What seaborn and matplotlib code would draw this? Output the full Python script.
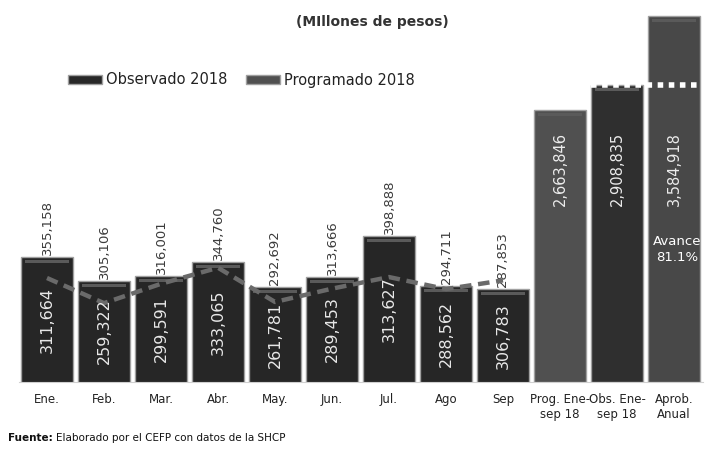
import matplotlib
matplotlib.use("Agg")
import matplotlib.pyplot as plt
import matplotlib.transforms as mtransforms
from matplotlib.patches import Patch, Rectangle
import numpy as np
import pandas as pd
import seaborn as sns

meses = ["Ene.", "Feb.", "Mar.", "Abr.", "May.", "Jun.", "Jul.", "Ago", "Sep"]
observado = [355158, 305106, 316001, 344760, 292692, 313666, 398888, 294711, 287853]
programado = [311664, 259322, 299591, 333065, 261781, 289453, 313627, 288562, 306783]
acumulados = ["Prog. Ene-\nsep 18", "Obs. Ene-\nsep 18", "Aprob.\nAnual"]
acum_valores = [2663846, 2908835, 3584918]
todas = meses + acumulados

sns.set_style("white")
plt.rcParams["font.family"] = ["DejaVu Sans"]

fig = plt.figure(figsize=(7.07, 4.5), dpi=100)
ax = fig.add_axes([18.5 / 707, 68 / 450, 684 / 707, 372 / 450])
ax2 = ax.twinx()

df_mes = pd.DataFrame({"mes": meses, "observado": observado, "programado": programado})
df_acum = pd.DataFrame({"concepto": acumulados, "valor": acum_valores})

# barras mensuales (eje principal)
sns.barplot(data=df_mes, x="mes", y="observado", order=todas, color="#262626",
            saturation=1, width=0.91, edgecolor="#a0a0a0", linewidth=1, ax=ax)
# programado mensual como linea punteada
sns.lineplot(x=np.arange(len(meses)), y=programado, color="#6a6a6a", lw=3.2,
             ax=ax, zorder=5)
ax.lines[-1].set_dashes((2.6, 1.5))

# acumulados (eje secundario)
sns.barplot(data=df_acum, x="concepto", y="valor", order=todas, hue="concepto",
            palette=["#505050", "#2f2f2f", "#484848"], legend=False, saturation=1,
            width=0.91, edgecolor="#a0a0a0", linewidth=1, ax=ax2)

ymin1, ymax1 = 95000, 870000
ax.set_ylim(ymin1, ymax1)
ax2.set_ylim(0, 3643500)
ax.set_xlim(-0.5, len(todas) - 0.5)

# brillo superior de cada barra
for a in (ax, ax2):
    lo, hi = a.get_ylim()
    upp = (hi - lo) / 372
    for p in list(a.patches):
        h = p.get_height()
        if not np.isfinite(h) or h <= 0:
            continue
        x, w = p.get_x(), p.get_width()
        a.add_patch(Rectangle((x + w * 0.08, h - 6 * upp), w * 0.84, 3 * upp,
                              facecolor="#5a5a5a", edgecolor="none", zorder=3))

for i, (o, p) in enumerate(zip(observado, programado)):
    ax.text(i, o + 4400, f"{o:,}", rotation=90, ha="center", va="bottom",
            fontsize=9.5, color="#3c3c3c")
    ax.text(i, (ymin1 + o) / 2, f"{p:,}", rotation=90, ha="center", va="center",
            fontsize=11.5, color="#e8e8e8", zorder=6)

trans = mtransforms.blended_transform_factory(ax2.transData, ax2.transAxes)
for j, v in enumerate(acum_valores):
    ax2.text(len(meses) + j, 0.672, f"{v:,}", rotation=90, ha="center", va="top",
             fontsize=10.5, color="#ececec", transform=trans)

avance = acum_valores[1] / acum_valores[2] * 100
ax2.text(len(todas) - 1 + 0.05, 0.357, f"Avance\n{avance:.1f}%", ha="center",
         va="center", fontsize=9.5, color="white", transform=trans,
         linespacing=1.3)

ax2.hlines(acum_valores[1], len(meses) + 1 - 0.455, len(todas) - 1 + 0.455,
           colors="white", lw=4, linestyles=(0, (1, 1)), zorder=6)

for a in (ax, ax2):
    a.set_xlabel("")
    a.set_ylabel("")
    a.set_yticks([])
    for s in a.spines.values():
        s.set_visible(False)
ax.spines["bottom"].set_visible(True)
ax.spines["bottom"].set_color("#d0d0d0")
ax.set_xticks(range(len(todas)), todas)
ax.tick_params(axis="x", length=0, pad=8, labelsize=8.5, labelcolor="#222222")

handles = [Patch(facecolor="#282828", edgecolor="#a0a0a0"),
           Patch(facecolor="#505050", edgecolor="#a0a0a0")]
fig.legend(handles, ["Observado 2018", "Programado 2018"], loc="center left",
           bbox_to_anchor=(68 / 707, 1 - 80 / 450), ncol=2, frameon=False,
           fontsize=10.5, handlelength=2.3, handleheight=0.55, handletextpad=0.3,
           columnspacing=1.3, borderpad=0, borderaxespad=0,
           labelcolor="#222222")

fig.text(372 / 707, 1 - 22 / 450, "(MIllones de pesos)", ha="center", va="center",
         fontsize=10, fontweight="bold", color="#333333")

t = fig.text(8 / 707, 1 - 438 / 450, "Fuente:", ha="left", va="center",
             fontsize=7.5, fontweight="bold", color="#111111")
r = fig.canvas.get_renderer()
bb = t.get_window_extent(renderer=r)
fig.text(bb.x1 / fig.bbox.width + 0.004, 1 - 438 / 450,
         "Elaborado por el CEFP con datos de la SHCP", ha="left", va="center",
         fontsize=7.5, color="#111111")

fig.savefig("out.png", dpi=100)
